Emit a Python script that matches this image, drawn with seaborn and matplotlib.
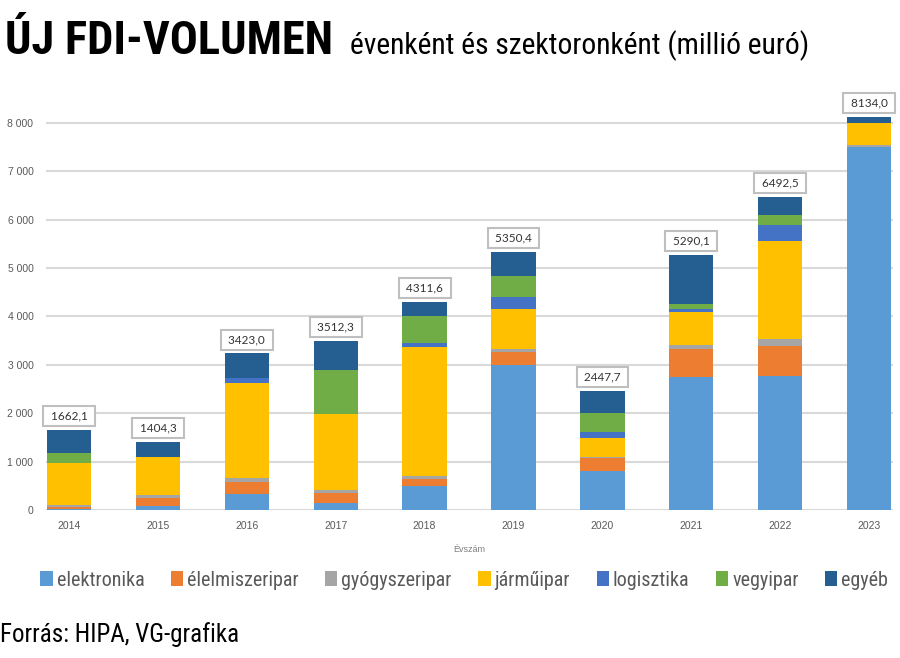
import numpy as np
import pandas as pd
import seaborn as sns
import matplotlib.pyplot as plt
from matplotlib.patches import Patch

years = [2014, 2015, 2016, 2017, 2018, 2019, 2020, 2021, 2022, 2023]
sectors = ['elektronika', 'élelmiszeripar', 'gyógyszeripar', 'járműipar',
           'logisztika', 'vegyipar', 'egyéb']
elektronika = [20, 80, 330, 150, 500, 3000, 810, 2740, 2775, 7500]
elelmiszeripar = [40, 160, 250, 200, 150, 275, 270, 580, 605, 0]
gyogyszeripar = [45, 70, 90, 70, 55, 60, 10, 85, 160, 50]
jarmuipar = [870, 780, 1950, 1555, 2665, 820, 390, 680, 2010, 450]
logisztika = [0, 0, 115, 0, 85, 255, 130, 75, 345, 0]
vegyipar = [205, 0, 0, 910, 560, 425, 385, 95, 195, 0]
egyeb = [470, 320, 500, 605, 290, 500, 460, 1020, 385, 125]
totals = ['1662,1', '1404,3', '3423,0', '3512,3', '4311,6',
          '5350,4', '2447,7', '5290,1', '6492,5', '8134,0']
yticks = [0, 1000, 2000, 3000, 4000, 5000, 6000, 7000, 8000]
ytick_labels = ['0', '1 000', '2 000', '3 000', '4 000', '5 000', '6 000', '7 000', '8 000']

colors = ['#5B9BD5', '#ED7D31', '#A5A5A5', '#FFC000', '#4472C4', '#70AD47', '#255E91']
series = [elektronika, elelmiszeripar, gyogyszeripar, jarmuipar, logisztika, vegyipar, egyeb]

sns.set_theme(style='white')
narrow = ['Roboto Condensed', 'DejaVu Sans']
plt.rcParams['font.family'] = ['Liberation Sans', 'DejaVu Sans']

fig = plt.figure(figsize=(9, 6.58), dpi=100)
ax = fig.add_axes([0.0511, 0.2249, 0.9411, 0.6398])

# stacked bars, one sector at a time
bottom = np.zeros(len(years))
for name, vals, col in zip(sectors, series, colors):
    d = pd.DataFrame({'year': years, 'value': vals})
    sns.barplot(data=d, x='year', y='value', color=col, width=0.5,
                bottom=bottom.copy(), errorbar=None, saturation=1, ax=ax,
                linewidth=0, zorder=3)
    bottom += np.array(vals)

# total labels in boxes
for i, lbl in enumerate(totals):
    ax.annotate(' ' + lbl + ' ', (i, bottom[i]), xytext=(0, 10),
                textcoords='offset points', ha='center', va='center',
                fontsize=8.5, color='#333333', family=['Lato', 'DejaVu Sans'],
                bbox=dict(boxstyle='square,pad=0.38', fc='white', ec='#bfbfbf', lw=1.5),
                zorder=5)

ax.set_xlim(-0.26, 9.27)
ax.set_ylim(0, 8700)
ax.set_yticks(yticks)
ax.set_yticklabels(ytick_labels)
ax.yaxis.grid(True, color='#d9d9d9', linewidth=1.5, zorder=0)
ax.set_axisbelow(True)
for s in ax.spines.values():
    s.set_visible(False)
ax.tick_params(axis='both', length=0, labelsize=7.5, colors='#595959')
ax.tick_params(axis='y', pad=9)
ax.tick_params(axis='x', pad=8)
ax.set_xlabel('Évszám', fontsize=6.5, color='#7f7f7f', labelpad=10)
ax.set_ylabel('')

handles = [Patch(facecolor=c, edgecolor='none') for c in colors]
fig.legend(handles, sectors, loc='center', bbox_to_anchor=(0.036, 0.118, 0.96, 0.0),
           mode='expand', ncol=7, frameon=False, handlelength=0.6, handleheight=0.75,
           handletextpad=0.2, borderaxespad=0,
           prop={'family': narrow, 'size': 14.5}, labelcolor='#595959')

fig.text(0.006, 0.918, 'ÚJ FDI-VOLUMEN', fontsize=33.5, fontweight='bold',
         family=narrow, color='black', va='baseline')
fig.text(0.389, 0.918, 'évenként és szektoronként (millió euró)', fontsize=21.3,
         family=narrow, color='black', va='baseline')
fig.text(0.0, 0.025, 'Forrás: HIPA, VG-grafika', fontsize=18,
         family=narrow, color='black', va='baseline')

fig.savefig('out.png', dpi=100, facecolor='white')
